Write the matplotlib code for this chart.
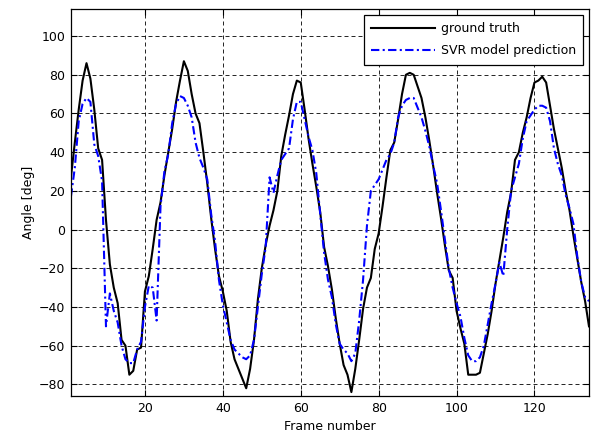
import matplotlib
matplotlib.use("Agg")
import matplotlib.pyplot as plt
import numpy as np

# frame index and joint angle (deg) per frame
frames = np.arange(1, 135)

ground_truth = [
    27, 45, 62, 77, 86, 78, 62, 42, 36, 5,
    -18, -30, -38, -57, -60, -75, -73, -62, -61, -32,
    -24, -10, 5, 14, 28, 40, 52, 66, 77, 87,
    82, 70, 60, 55, 40, 24, 6, -10, -24, -32,
    -42, -58, -67, -72, -77, -82, -72, -57, -36, -20,
    -8, 2, 10, 20, 38, 49, 59, 70, 77, 76,
    62, 47, 34, 22, 9, -9, -19, -31, -46, -59,
    -70, -75, -84, -72, -57, -41, -30, -25, -10, -2,
    12, 27, 41, 45, 57, 70, 80, 81, 80, 74,
    68, 58, 46, 33, 19, 6, -8, -21, -25, -42,
    -51, -59, -75, -75, -75, -74, -64, -54, -42, -28,
    -16, -4, 9, 19, 36, 40, 50, 58, 68, 76,
    77, 79, 76, 64, 52, 42, 32, 20, 10, -3,
    -15, -27, -37, -50,
]

svr_prediction = [
    17, 32, 56, 65, 68, 66, 44, 38, 25, -50,
    -33, -42, -48, -60, -67, -69, -69, -62, -58, -40,
    -29, -30, -47, 12, 30, 39, 55, 65, 69, 68,
    64, 58, 45, 37, 32, 26, 8, -6, -26, -39,
    -48, -57, -62, -64, -66, -67, -65, -57, -40, -23,
    -9, 27, 19, 28, 36, 39, 42, 57, 66, 66,
    57, 48, 41, 29, 8, -12, -26, -35, -49, -59,
    -62, -64, -68, -64, -47, -26, 2, 20, 23, 26,
    31, 36, 39, 45, 58, 64, 67, 68, 68, 63,
    58, 51, 43, 33, 24, 10, -5, -20, -30, -38,
    -45, -56, -65, -68, -68, -66, -60, -49, -38, -28,
    -17, -24, 0, 20, 27, 34, 47, 56, 59, 62,
    64, 64, 63, 56, 42, 34, 28, 18, 11, 3,
    -14, -27, -35, -37,
]

plt.rcParams["font.family"] = "DejaVu Sans"
plt.rcParams["font.size"] = 9

fig = plt.figure(figsize=(5.91, 4.38), dpi=100)
ax = fig.add_axes([0.120, 0.0959, 0.8766, 0.8836])

ax.plot(frames, ground_truth, color="black", linewidth=1.5, label="ground truth")
ax.plot(frames, svr_prediction, color="blue", linewidth=1.5, linestyle="-.",
        dashes=(4, 1.6, 1, 1.6), label="SVR model prediction")

ax.set_xlim(1, 134)
ax.set_ylim(-86, 114)
ax.set_xticks(np.arange(20, 121, 20))
ax.set_yticks(np.arange(-80, 101, 20))

# dotted grid, ticks inside on every side
ax.grid(True, color="black", linestyle=(0, (4.8, 3.6)), linewidth=0.6)
ax.tick_params(direction="in", length=4, width=0.8, top=True, right=True,
               labelsize=9, pad=4)
for sp in ax.spines.values():
    sp.set_linewidth(0.9)

ax.set_xlabel("Frame number", fontsize=9, labelpad=4)
ax.set_ylabel("Angle [deg]", fontsize=9, labelpad=3)

leg = ax.legend(loc="upper right", fontsize=9, handlelength=5.1,
                handletextpad=0.45, labelspacing=0.75, borderpad=0.6,
                borderaxespad=0.45, fancybox=False, framealpha=1)
leg.get_frame().set_edgecolor("black")
leg.get_frame().set_linewidth(0.9)

fig.savefig("out.png", dpi=100)
